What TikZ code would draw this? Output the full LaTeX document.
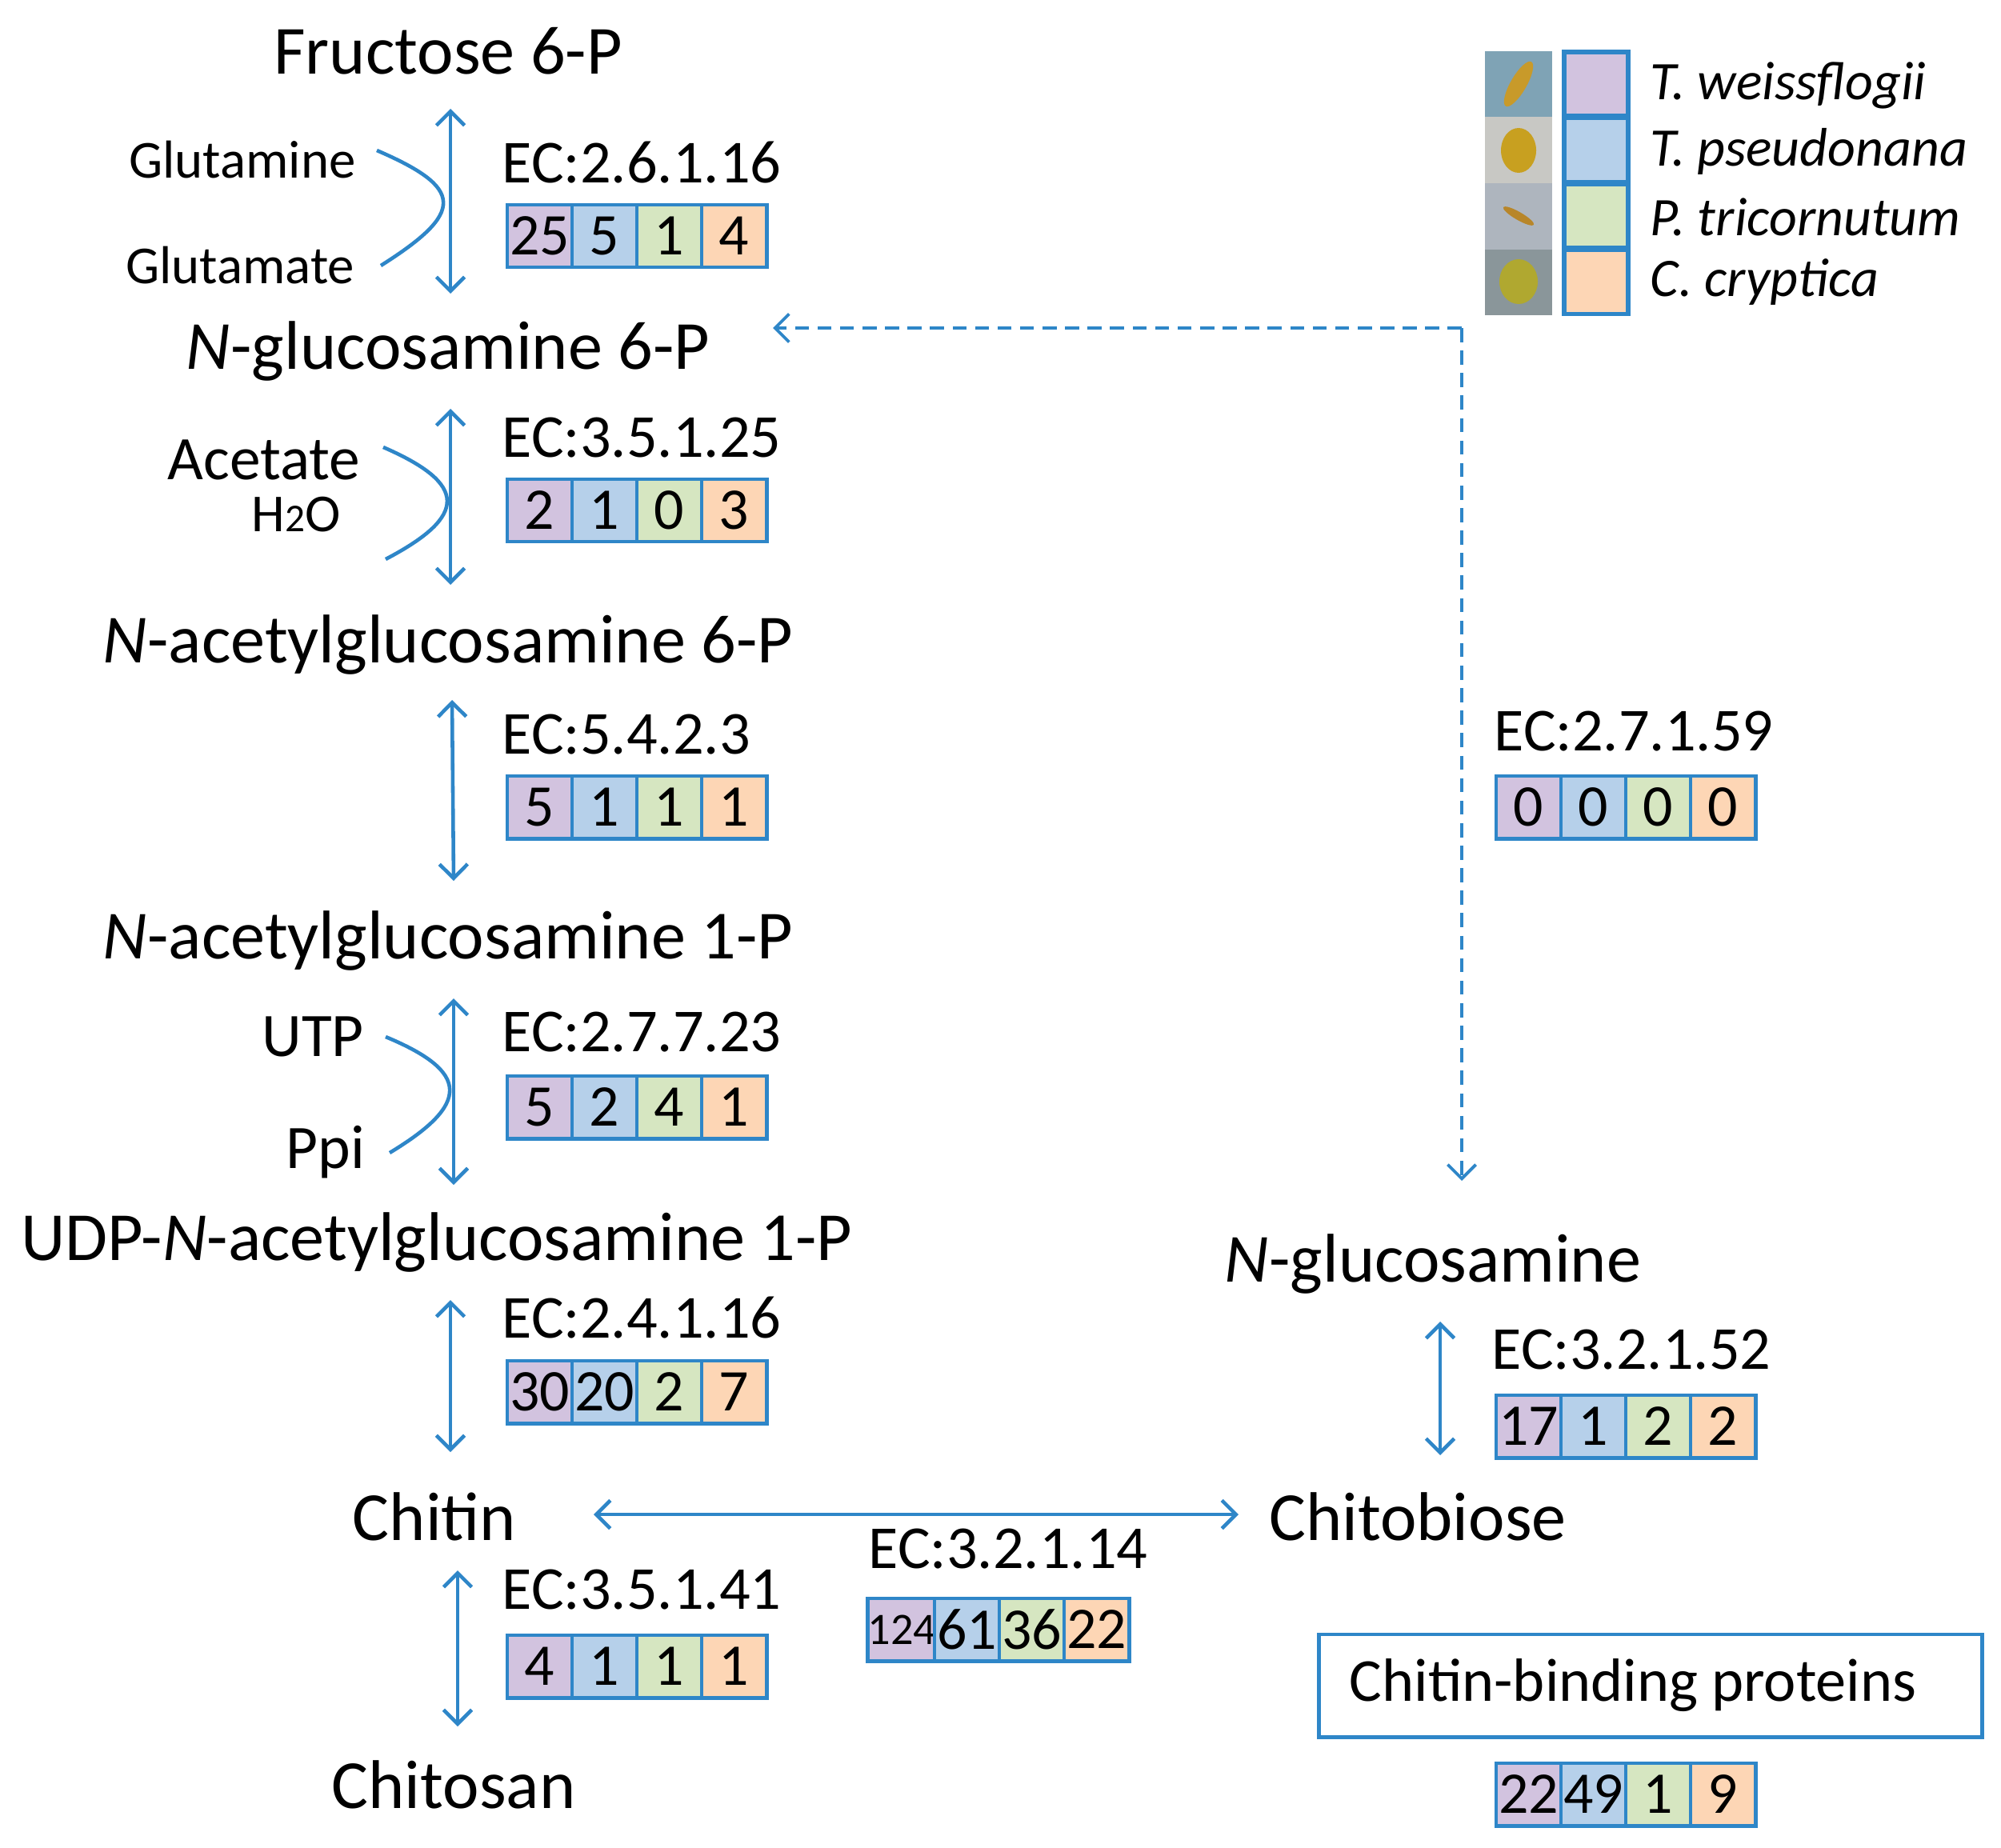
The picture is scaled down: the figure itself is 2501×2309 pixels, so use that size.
\documentclass[tikz,border=0pt]{standalone}
\usepackage{fontspec}
\setmainfont{Carlito}
\usetikzlibrary{arrows.meta}
\definecolor{cA}{HTML}{D2C3DF}
\definecolor{cB}{HTML}{B6D0EA}
\definecolor{cC}{HTML}{D6E6C1}
\definecolor{cD}{HTML}{FDD6B5}
\definecolor{ln}{HTML}{2E86C8}
\definecolor{p0}{HTML}{7FA3B5}
\definecolor{p1}{HTML}{C8C8C4}
\definecolor{p2}{HTML}{AEB5BE}
\definecolor{p3}{HTML}{8A969A}
\definecolor{o0}{HTML}{C89A2A}
\definecolor{o1}{HTML}{C8A020}
\definecolor{o2}{HTML}{B8862A}
\definecolor{o3}{HTML}{B0A830}
\tikzset{
 met/.style={font=\fontsize{24.5}{28}\selectfont,inner sep=0},
 ec/.style={font=\fontsize{21.7}{24}\selectfont,anchor=west,inner sep=0},
 sub/.style={font=\fontsize{19}{22}\selectfont,inner sep=0},
 cell/.style={draw=ln,line width=1.4pt,minimum width=0.81cm,minimum height=0.78cm,inner sep=0,font=\fontsize{21}{24}\selectfont},
 rx/.style={draw=ln,line width=1.3pt,{Straight Barb[length=5pt,width=10pt]}-{Straight Barb[length=5pt,width=10pt]}},
 side/.style={draw=ln,line width=1.3pt},
 dashl/.style={draw=ln,line width=1.1pt,dash pattern=on 5pt off 3pt,-{Straight Barb[length=5pt,width=10pt]}},
 leg/.style={font=\fontsize{19.3}{22}\selectfont\itshape,anchor=west,inner sep=0}
}
\begin{document}
\begin{tikzpicture}[x=0.01cm,y=-0.01cm]
\useasboundingbox (0,0) rectangle (2501,2309);
% metabolites
\node[met] (fru) at (560,64) {Fructose 6-P};
\node[met] (gn6) at (560,439) {\textit{N}-glucosamine 6-P};
\node[met] (ag6) at (560,806) {\textit{N}-acetylglucosamine 6-P};
\node[met] (ag1) at (560,1176) {\textit{N}-acetylglucosamine 1-P};
\node[met] (udp) at (546,1553) {UDP-\textit{N}-acetylglucosamine 1-P};
\node[met] (chitin) at (543,1896) {Chitin};
\node[met] (chitosan) at (567,2231) {Chitosan};
\node[met] (gn) at (1791,1580) {\textit{N}-glucosamine};
\node[met] (cb) at (1772,1896) {Chitobiose};
% vertical arrows
\coordinate (a1t) at (563,136); \coordinate (a1b) at (563,367);
\coordinate (a2t) at (563,511); \coordinate (a2b) at (563,731);
\coordinate (a3t) at (565,875); \coordinate (a3b) at (567,1101);
\coordinate (a4t) at (567,1248); \coordinate (a4b) at (567,1481);
\coordinate (a5t) at (563,1625); \coordinate (a5b) at (563,1815);
\coordinate (a6t) at (572,1963); \coordinate (a6b) at (572,2158);
\coordinate (a7t) at (1800,1652); \coordinate (a7b) at (1800,1819);
\foreach \t/\b in {a1t/a1b,a2t/a2b,a3t/a3b,a4t/a4b,a5t/a5b,a6t/a6b,a7t/a7b}
  \draw[rx] (\t) -- (\b);
\coordinate (hl) at (742,1893); \coordinate (hr) at (1548,1893);
\draw[rx] (hl) -- (hr);
% side substrates
\node[sub] (glm) at (303,200) {Glutamine};
\node[sub] (glt) at (300,332) {Glutamate};
\coordinate (c1a) at (471,188); \coordinate (c1b) at (476,332);
\draw[side] (c1a) .. controls (580,235) and (582,265) .. (c1b);
\node[font=\fontsize{22}{24}\selectfont,inner sep=0] (ace) at (330,575) {Acetate};
\node[sub] (h2o) at (370,643) {H{\fontsize{14}{15}\selectfont 2}O};
\coordinate (c2a) at (479,559); \coordinate (c2b) at (482,699);
\draw[side] (c2a) .. controls (585,605) and (585,645) .. (c2b);
\node[font=\fontsize{22}{24}\selectfont,inner sep=0] (utp) at (391,1296) {UTP};
\node[font=\fontsize{22}{24}\selectfont,inner sep=0] (ppi) at (407,1440) {Ppi};
\coordinate (c3a) at (482,1296); \coordinate (c3b) at (487,1441);
\draw[side] (c3a) .. controls (588,1340) and (588,1380) .. (c3b);
% EC labels
\node[ec] (e1) at (627,203) {EC:2.6.1.16};
\node[ec] (e2) at (627,547) {EC:3.5.1.25};
\node[ec] (e3) at (627,918) {EC:5.4.2.3};
\node[ec] (e4) at (627,1290) {EC:2.7.7.23};
\node[ec] (e5) at (627,1647) {EC:2.4.1.16};
\node[ec] (e6) at (627,1987) {EC:3.5.1.41};
\node[ec] (e7) at (1867,914) {EC:2.7.1.59};
\node[ec] (e8) at (1864,1687) {EC:3.2.1.52};
\node[ec] (e9) at (1085,1936) {EC:3.2.1.14};
% count boxes
\foreach \nm/\x/\y/\p/\q/\r/\s in {
  b1/634/295/25/5/1/4, b2/634/638/2/1/0/3, b3/634/1009/5/1/1/1,
  b4/634/1384/5/2/4/1, b5/634/1740/30/20/2/7, b6/634/2083/4/1/1/1,
  b7/1870/1009/0/0/0/0, b8/1870/1783/17/1/2/2,
  b9/1087/2037/{\fontsize{16}{18}\selectfont 124}/61/36/22, b10/1870/2243/22/49/1/9}{
  \node[cell,fill=cA] (\nm a) at (\x+40.5,\y) {\p};
  \node[cell,fill=cB] (\nm b) at (\x+121.5,\y) {\q};
  \node[cell,fill=cC] (\nm c) at (\x+202.5,\y) {\r};
  \node[cell,fill=cD] (\nm d) at (\x+283.5,\y) {\s};
}
% chitin-binding
\node[draw=ln,line width=1.4pt,minimum height=1.28cm,inner xsep=0.38cm,text width=7.52cm,align=flush left,font=\fontsize{21.7}{26}\selectfont] (cbp) at (2063,2107) {Chitin-binding proteins};
% dashed
\coordinate (dc) at (1827,410);
\coordinate (dl) at (966,410);
\coordinate (dd) at (1827,1476);
\draw[dashl] (dc) -- (dl);
\draw[dashl] (dc) -- (dd);
% legend
\foreach \i/\col/\fc/\txt in {0/cA/p0/{T. weissflogii},1/cB/p1/{T. pseudonana},2/cC/p2/{P. tricornutum},3/cD/p3/{C. cryptica}}{
  \fill[fill=\fc] (1856,64+\i*82.5) rectangle (1940,146.5+\i*82.5);
  \node[draw=ln,line width=1.6pt,fill=\col,minimum width=0.8cm,minimum height=0.8cm,inner sep=0] (L\i) at (1995,105+\i*82.5) {};
  \node[leg] (T\i) at (2062,107+\i*82) {\txt};
}
\fill[fill=o0,rotate around={60:(1898,105)}] (1898,105) ellipse (32 and 10);
\fill[fill=o1] (1898,188) ellipse (22 and 28);
\fill[fill=o2,rotate around={-30:(1898,270)}] (1898,270) ellipse (22 and 5);
\fill[fill=o3] (1898,352) ellipse (24 and 28);
\end{tikzpicture}
\end{document}
